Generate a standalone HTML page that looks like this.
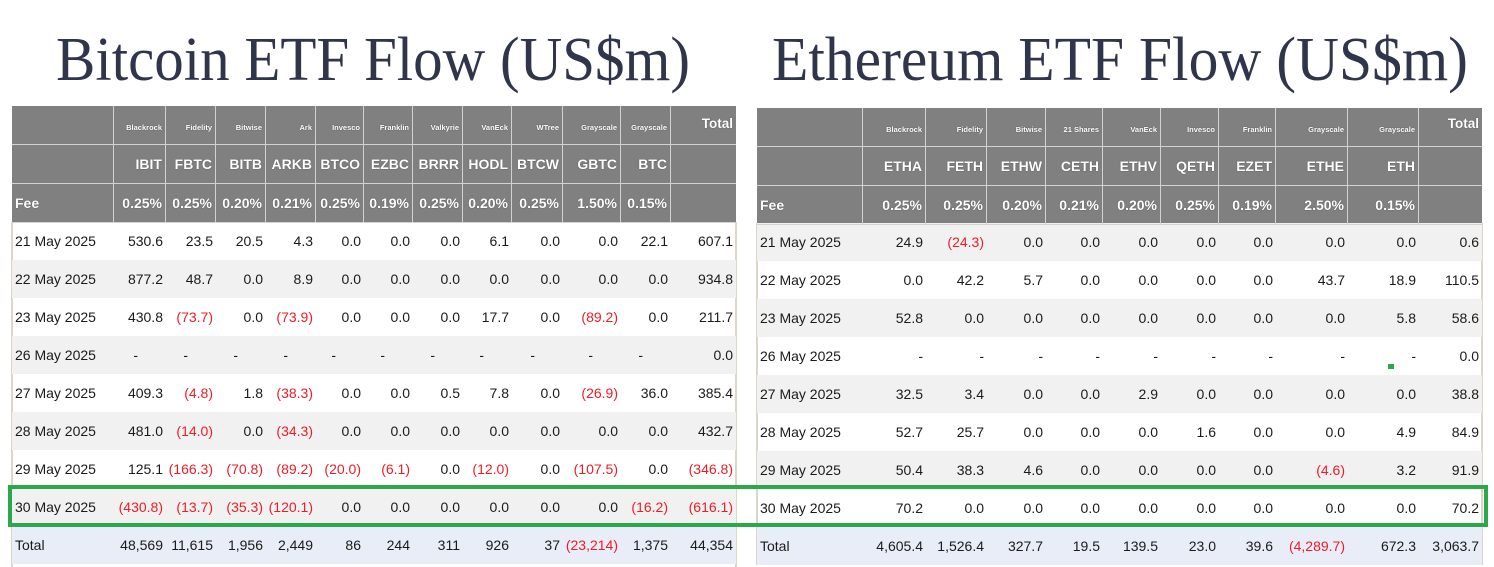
<!DOCTYPE html>
<html><head><meta charset="utf-8">
<style>
*{box-sizing:border-box}
body{margin:0;width:1494px;height:567px;overflow:hidden;background:#fff;font-family:"Liberation Sans",Arial,sans-serif;position:relative}
.t{position:absolute}
.L{left:12px;top:106px;width:724px}
.R{left:757px;top:108px;width:725px}
.r{display:grid;height:38px}
.L .r{grid-template-columns:102px 52px 50px 50px 50px 48px 49px 50px 49px 51px 58px 50px 65px}
.R .r{grid-template-columns:106px 63px 61px 59px 57px 58px 58px 57px 72px 71px 63px}
.r>span{text-align:right;padding-right:3px;font-size:14px;line-height:38px;color:#1a1a1a;white-space:nowrap}
.r>span:first-child{text-align:left;padding-left:3px}
.g{background:#f1f1f1}
.tot{background:#e9edf7}
.n{color:#ee1c25 !important}
.L .d{padding-right:28px}
.h{background:#808080}
.h>span{border-right:1px solid #d2d2d2;border-bottom:1px solid #d2d2d2;color:#fff;font-weight:bold;text-shadow:0 0 1px #3a3a3a}
.h>span:last-child{border-right:none}
.h1>span{font-size:7.5px;line-height:32px;padding-top:6px}
.h2>span{font-size:14px;line-height:37px;padding-top:2px}
.h3>span{font-size:14px;line-height:37px;padding-top:2px}
.L .h1>span{line-height:33px;padding-top:5px}
.h1>span.tt{font-size:13.5px;line-height:34px;padding-top:1px}
.vl{position:absolute;width:2px;background:#dcd5c8}
</style></head><body>
<svg width="1494" height="567" style="position:absolute;left:0;top:0">
<text x="56" y="80" font-family="Liberation Serif, serif" font-size="62" fill="#30354b" textLength="634" lengthAdjust="spacingAndGlyphs">Bitcoin ETF Flow (US$m)</text>
<text x="772" y="80" font-family="Liberation Serif, serif" font-size="62" fill="#30354b" textLength="696" lengthAdjust="spacingAndGlyphs">Ethereum ETF Flow (US$m)</text>
</svg>

<div class="vl" style="left:11px;top:222px;height:345px"></div>
<div class="vl" style="left:735px;top:222px;height:345px"></div>
<div class="vl" style="left:756px;top:223px;height:342px"></div>
<div class="vl" style="left:1481px;top:223px;height:342px"></div>
<div style="position:absolute;left:756px;top:563px;width:727px;height:2px;background:#dcd5c8"></div>

<div class="t L">
<div class="r h h1" style="height:38px"><span></span><span>Blackrock</span><span>Fidelity</span><span>Bitwise</span><span>Ark</span><span>Invesco</span><span>Franklin</span><span>Valkyrie</span><span>VanEck</span><span>WTree</span><span>Grayscale</span><span>Grayscale</span><span class="tt">Total</span></div>
<div class="r h h2" style="height:39px"><span></span><span>IBIT</span><span>FBTC</span><span>BITB</span><span>ARKB</span><span>BTCO</span><span>EZBC</span><span>BRRR</span><span>HODL</span><span>BTCW</span><span>GBTC</span><span>BTC</span><span></span></div>
<div class="r h h3" style="height:39px"><span>Fee</span><span>0.25%</span><span>0.25%</span><span>0.20%</span><span>0.21%</span><span>0.25%</span><span>0.19%</span><span>0.25%</span><span>0.20%</span><span>0.25%</span><span>1.50%</span><span>0.15%</span><span></span></div>
<div class="r"><span>21 May 2025</span><span>530.6</span><span>23.5</span><span>20.5</span><span>4.3</span><span>0.0</span><span>0.0</span><span>0.0</span><span>6.1</span><span>0.0</span><span>0.0</span><span>22.1</span><span>607.1</span></div>
<div class="r g"><span>22 May 2025</span><span>877.2</span><span>48.7</span><span>0.0</span><span>8.9</span><span>0.0</span><span>0.0</span><span>0.0</span><span>0.0</span><span>0.0</span><span>0.0</span><span>0.0</span><span>934.8</span></div>
<div class="r"><span>23 May 2025</span><span>430.8</span><span class="n">(73.7)</span><span>0.0</span><span class="n">(73.9)</span><span>0.0</span><span>0.0</span><span>0.0</span><span>17.7</span><span>0.0</span><span class="n">(89.2)</span><span>0.0</span><span>211.7</span></div>
<div class="r g"><span>26 May 2025</span><span class="d">-</span><span class="d">-</span><span class="d">-</span><span class="d">-</span><span class="d">-</span><span class="d">-</span><span class="d">-</span><span class="d">-</span><span class="d">-</span><span class="d">-</span><span class="d">-</span><span>0.0</span></div>
<div class="r"><span>27 May 2025</span><span>409.3</span><span class="n">(4.8)</span><span>1.8</span><span class="n">(38.3)</span><span>0.0</span><span>0.0</span><span>0.5</span><span>7.8</span><span>0.0</span><span class="n">(26.9)</span><span>36.0</span><span>385.4</span></div>
<div class="r g"><span>28 May 2025</span><span>481.0</span><span class="n">(14.0)</span><span>0.0</span><span class="n">(34.3)</span><span>0.0</span><span>0.0</span><span>0.0</span><span>0.0</span><span>0.0</span><span>0.0</span><span>0.0</span><span>432.7</span></div>
<div class="r"><span>29 May 2025</span><span>125.1</span><span class="n">(166.3)</span><span class="n">(70.8)</span><span class="n">(89.2)</span><span class="n">(20.0)</span><span class="n">(6.1)</span><span>0.0</span><span class="n">(12.0)</span><span>0.0</span><span class="n">(107.5)</span><span>0.0</span><span class="n">(346.8)</span></div>
<div class="r g"><span>30 May 2025</span><span class="n">(430.8)</span><span class="n">(13.7)</span><span class="n">(35.3)</span><span class="n">(120.1)</span><span>0.0</span><span>0.0</span><span>0.0</span><span>0.0</span><span>0.0</span><span>0.0</span><span class="n">(16.2)</span><span class="n">(616.1)</span></div>
<div class="r tot"><span>Total</span><span>48,569</span><span>11,615</span><span>1,956</span><span>2,449</span><span>86</span><span>244</span><span>311</span><span>926</span><span>37</span><span class="n">(23,214)</span><span>1,375</span><span>44,354</span></div>
</div>

<div class="t R">
<div class="r h h1" style="height:38px"><span></span><span>Blackrock</span><span>Fidelity</span><span>Bitwise</span><span>21 Shares</span><span>VanEck</span><span>Invesco</span><span>Franklin</span><span>Grayscale</span><span>Grayscale</span><span class="tt" style="padding-top:0;line-height:32px">Total</span></div>
<div class="r h h2" style="height:39px"><span></span><span>ETHA</span><span>FETH</span><span>ETHW</span><span>CETH</span><span>ETHV</span><span>QETH</span><span>EZET</span><span>ETHE</span><span>ETH</span><span></span></div>
<div class="r h h3" style="height:38px"><span>Fee</span><span>0.25%</span><span>0.25%</span><span>0.20%</span><span>0.21%</span><span>0.20%</span><span>0.25%</span><span>0.19%</span><span>2.50%</span><span>0.15%</span><span></span></div>
<div class="r g"><span>21 May 2025</span><span>24.9</span><span class="n">(24.3)</span><span>0.0</span><span>0.0</span><span>0.0</span><span>0.0</span><span>0.0</span><span>0.0</span><span>0.0</span><span>0.6</span></div>
<div class="r"><span>22 May 2025</span><span>0.0</span><span>42.2</span><span>5.7</span><span>0.0</span><span>0.0</span><span>0.0</span><span>0.0</span><span>43.7</span><span>18.9</span><span>110.5</span></div>
<div class="r g"><span>23 May 2025</span><span>52.8</span><span>0.0</span><span>0.0</span><span>0.0</span><span>0.0</span><span>0.0</span><span>0.0</span><span>0.0</span><span>5.8</span><span>58.6</span></div>
<div class="r"><span>26 May 2025</span><span>-</span><span>-</span><span>-</span><span>-</span><span>-</span><span>-</span><span>-</span><span>-</span><span>-</span><span>0.0</span></div>
<div class="r g"><span>27 May 2025</span><span>32.5</span><span>3.4</span><span>0.0</span><span>0.0</span><span>2.9</span><span>0.0</span><span>0.0</span><span>0.0</span><span>0.0</span><span>38.8</span></div>
<div class="r"><span>28 May 2025</span><span>52.7</span><span>25.7</span><span>0.0</span><span>0.0</span><span>0.0</span><span>1.6</span><span>0.0</span><span>0.0</span><span>4.9</span><span>84.9</span></div>
<div class="r g"><span>29 May 2025</span><span>50.4</span><span>38.3</span><span>4.6</span><span>0.0</span><span>0.0</span><span>0.0</span><span>0.0</span><span class="n">(4.6)</span><span>3.2</span><span>91.9</span></div>
<div class="r"><span>30 May 2025</span><span>70.2</span><span>0.0</span><span>0.0</span><span>0.0</span><span>0.0</span><span>0.0</span><span>0.0</span><span>0.0</span><span>0.0</span><span>70.2</span></div>
<div class="r tot"><span>Total</span><span>4,605.4</span><span>1,526.4</span><span>327.7</span><span>19.5</span><span>139.5</span><span>23.0</span><span>39.6</span><span class="n">(4,289.7)</span><span>672.3</span><span>3,063.7</span></div>
</div>

<div style="position:absolute;left:1388px;top:364px;width:6px;height:5px;background:#2aa84a"></div>
<div style="position:absolute;left:8px;top:485px;width:1480px;height:42px;border:4px solid #2aa84a"></div>
</body></html>
